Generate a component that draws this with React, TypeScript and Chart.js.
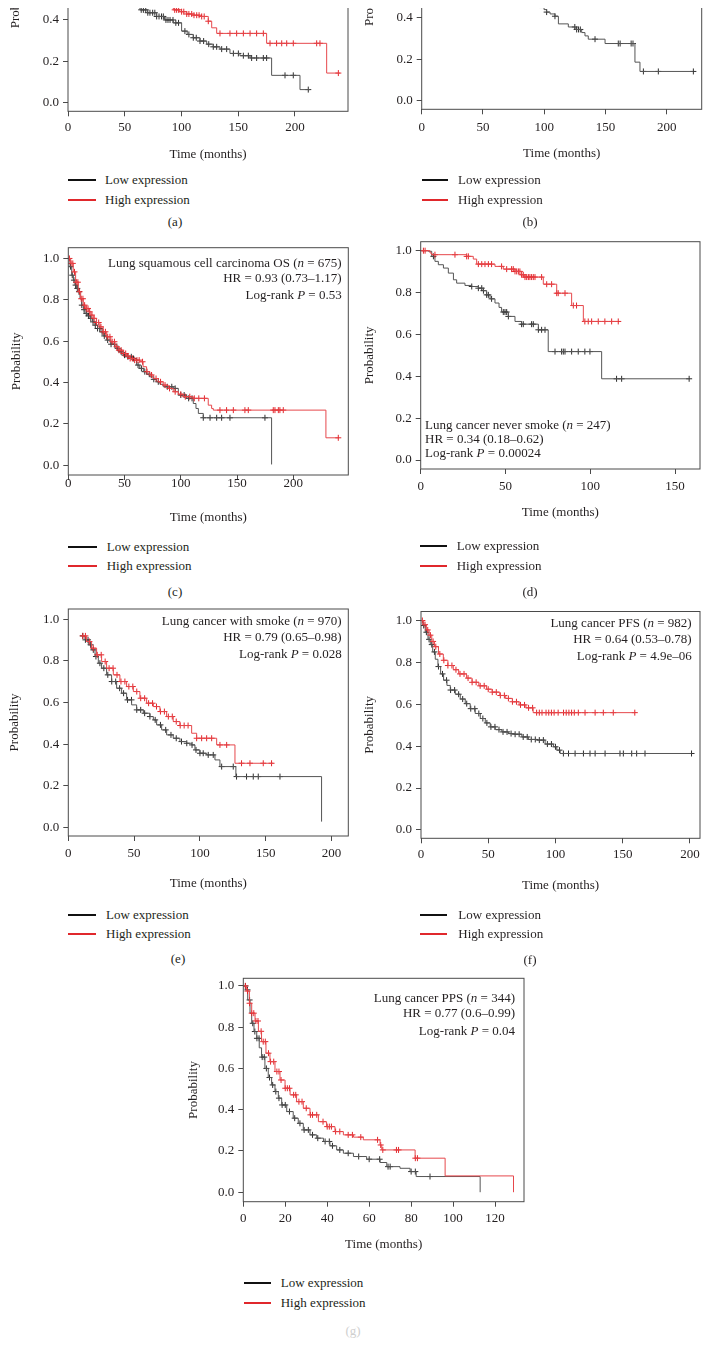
import React, { useEffect, useRef } from 'react';
import { Chart, registerables } from 'chart.js';
Chart.register(...registerables);

const FONT = "'Liberation Serif', 'Times New Roman', serif";
const TEXT = '#231f20';
const AXIS = '#4a4a4a';
const LOW_LINE = '#555555';
const LOW_MARK = '#2e2e2e';
const RED_LINE = '#e6484c';
const RED_MARK = '#e3262b';
const LEG_BLACK = '#111111';
const LEG_RED = '#e0282c';

const Y_TICKS = [0, 0.2, 0.4, 0.6, 0.8, 1.0];
const X_TICKS_200 = [0, 50, 100, 150, 200];
const X_TICKS_150 = [0, 50, 100, 150];
const X_TICKS_120 = [0, 20, 40, 60, 80, 100, 120];

const LEGEND_LABELS = ['Low expression', 'High expression'];

// ---------- (a) ----------
const aLowT = [0, 3, 6, 10, 15, 20, 25, 30, 35, 40, 45, 50, 55, 60, 63.4, 70, 78.1, 85, 92.8, 100.1, 105, 110.4, 116.3, 122.2, 128, 133.9, 142.7, 151.5, 160.4, 179.4, 204.4, 213.2];
const aLowS = [1, 0.95, 0.9, 0.84, 0.78, 0.72, 0.67, 0.62, 0.58, 0.55, 0.52, 0.5, 0.48, 0.465, 0.449, 0.435, 0.417, 0.4, 0.386, 0.346, 0.33, 0.314, 0.298, 0.283, 0.27, 0.259, 0.238, 0.227, 0.216, 0.132, 0.063, 0.063];
const aLowC = [64.5, 66.4, 68.5, 70.3, 72.2, 74.6, 76.5, 78.1, 80.2, 82.4, 84, 86.3, 88.1, 89.9, 92.5, 95, 97.4, 103, 106.5, 110.4, 113, 116.3, 119.5, 124, 128, 131, 135.4, 139.8, 145.7, 150.1, 154.5, 158.9, 161.8, 166.2, 172.1, 175, 191.2, 198.5, 211.7];
const aHighT = [0, 3, 6, 10, 15, 20, 25, 30, 40, 50, 60, 70, 80, 86, 92.8, 98, 104.6, 110, 116.3, 123.6, 126.6, 131, 175, 227.9, 239.6];
const aHighS = [1, 0.97, 0.94, 0.9, 0.86, 0.82, 0.78, 0.75, 0.69, 0.63, 0.57, 0.52, 0.49, 0.465, 0.449, 0.44, 0.429, 0.423, 0.417, 0.394, 0.362, 0.335, 0.287, 0.143, 0.143];
const aHighC = [94, 95.7, 97.5, 100.1, 102, 104.6, 106.5, 109, 111, 113.4, 115.5, 117.8, 120, 123.6, 133.9, 142.7, 148.6, 154.5, 160.4, 166.2, 172.1, 178, 183.8, 188.3, 192.7, 198.5, 219.1, 222, 238.2];

// ---------- (b) ----------
const bLowT = [0, 4, 8, 12, 18, 24, 30, 36, 42, 48, 54, 60, 66, 72, 78, 84, 90, 96, 99.9, 102, 104.8, 108.8, 111.6, 119.7, 125.2, 130.6, 133.3, 136, 149.7, 174.1, 178.2, 221.8];
const bLowS = [1, 0.95, 0.9, 0.85, 0.8, 0.75, 0.71, 0.67, 0.64, 0.6, 0.57, 0.55, 0.52, 0.5, 0.48, 0.47, 0.46, 0.45, 0.44, 0.428, 0.419, 0.408, 0.371, 0.356, 0.344, 0.329, 0.313, 0.297, 0.276, 0.186, 0.141, 0.141];
const bLowC = [102, 108.8, 125, 126.5, 128, 129.5, 141.5, 160.5, 162, 171, 172.5, 181, 193.2, 221.8];
const bHighT = [0, 5, 10, 15, 20, 30, 40, 50, 60, 70, 80, 90, 100, 110, 120, 130, 140, 150, 160];
const bHighS = [1, 0.97, 0.94, 0.91, 0.88, 0.83, 0.79, 0.75, 0.72, 0.69, 0.66, 0.63, 0.61, 0.59, 0.57, 0.55, 0.53, 0.52, 0.52];
const bHighC = [25, 48, 70, 95, 118, 142, 160];

// ---------- (c) ----------
const cLowT = [0, 1.5, 3, 4.5, 5.9, 7.4, 8.9, 10.4, 11.9, 13.4, 14.8, 17, 19.3, 21.5, 23.7, 26, 28.1, 31, 34.1, 37.8, 41.5, 45, 48.9, 52.5, 56.3, 60.7, 63.5, 66.7, 69.5, 72.6, 75.5, 78.5, 81.5, 84.4, 93.3, 97.8, 105.2, 111.1, 113.5, 115.6, 120, 180.7];
const cLowS = [1, 0.96, 0.919, 0.895, 0.871, 0.855, 0.839, 0.805, 0.774, 0.752, 0.734, 0.722, 0.71, 0.693, 0.677, 0.661, 0.645, 0.625, 0.605, 0.585, 0.565, 0.548, 0.532, 0.524, 0.516, 0.484, 0.468, 0.452, 0.44, 0.427, 0.415, 0.403, 0.391, 0.379, 0.371, 0.339, 0.323, 0.298, 0.274, 0.25, 0.229, 0.003];
const cLowC = [2, 3.5, 5, 6.5, 8, 9.5, 12, 14, 16, 18, 20, 22, 24, 26, 28, 30, 32, 35, 38, 41, 44, 47, 50, 53, 56, 58, 62, 65, 68, 72, 76, 80, 88, 92, 95, 100, 103, 107, 110, 120, 126, 131.9, 136.3, 143.7, 174.8];
const cHighT = [0, 2.1, 4.4, 6.5, 8.9, 11, 13.3, 15.5, 17.8, 20, 22.2, 25, 28.1, 31, 34.1, 37.8, 41.5, 45, 48.9, 51.5, 54.8, 59, 63.7, 66.5, 69.6, 72.5, 75.6, 80, 84.4, 88.8, 93.3, 97.8, 102.2, 111.1, 124.4, 127.4, 128.9, 229, 240];
const cHighS = [1, 0.976, 0.935, 0.885, 0.839, 0.805, 0.774, 0.758, 0.742, 0.726, 0.71, 0.69, 0.669, 0.645, 0.621, 0.597, 0.573, 0.556, 0.54, 0.528, 0.516, 0.508, 0.5, 0.476, 0.452, 0.436, 0.419, 0.403, 0.387, 0.371, 0.355, 0.343, 0.331, 0.323, 0.29, 0.274, 0.266, 0.132, 0.132];
const cHighC = [1, 2.5, 4, 5.5, 7, 8.5, 10, 11.5, 13, 14.5, 16, 17.5, 19, 21, 23, 25, 27, 29, 31, 33, 35, 37, 39, 41, 43, 45, 47, 49, 51, 53, 55, 57, 59, 61, 63, 66, 70, 74, 78, 82, 86, 90, 95, 100, 104, 108, 112, 116, 121, 134.8, 140.7, 146.7, 157, 160, 182.2, 183.7, 186.7, 188.1, 191.1, 240];

// ---------- (d) ----------
const dLowT = [0, 4.5, 6.5, 8.4, 10.4, 13.4, 16.3, 19.3, 21.2, 26.1, 30.1, 34, 36.9, 38.9, 40.9, 43.8, 46.2, 47.7, 51.7, 55.6, 59.5, 69.4, 75.2, 106.7, 158.3];
const dLowS = [1, 0.997, 0.973, 0.949, 0.933, 0.917, 0.893, 0.861, 0.845, 0.834, 0.829, 0.821, 0.809, 0.789, 0.77, 0.75, 0.729, 0.707, 0.686, 0.662, 0.649, 0.622, 0.518, 0.388, 0.388];
const dLowC = [7.5, 30.1, 34, 36, 37, 38.9, 39.9, 41.8, 48.7, 49.7, 50.7, 51.7, 59.5, 60.5, 65.4, 66.4, 69.4, 71.3, 73.3, 79.2, 83.1, 84.1, 85.1, 89, 92.9, 96.8, 99.8, 115.5, 118.5, 158.3];
const dHighT = [0, 5.5, 6.5, 27.1, 31, 33, 43.8, 48.7, 55.6, 59.5, 61.5, 72.3, 80.2, 89, 95.9, 116.5];
const dHighS = [1, 0.989, 0.981, 0.973, 0.96, 0.936, 0.925, 0.912, 0.901, 0.885, 0.874, 0.84, 0.797, 0.738, 0.662, 0.662];
const dHighC = [1.6, 2.6, 8.4, 20.2, 27.1, 28.1, 34, 36, 37.9, 39.9, 41.8, 47.7, 50.7, 53.6, 54.6, 55.6, 56.6, 57.6, 58.5, 59.5, 60.5, 61.5, 62.5, 63.5, 64.4, 65.4, 66.4, 67.4, 71.3, 74.3, 77.2, 80.2, 81.1, 85.1, 90, 91.9, 96.8, 98.8, 100.8, 104.7, 108.6, 112.6, 116.5];

// ---------- (e) ----------
const eLowT = [10.1, 12.7, 15.2, 17.7, 20.3, 22.8, 25.3, 29.1, 32.9, 36.7, 40.5, 44.3, 48.1, 51.9, 57, 62, 64.6, 67.1, 70.9, 74.7, 79.7, 84.8, 89.9, 93.7, 96.2, 100, 105.1, 111.4, 115.2, 127.3, 192.4];
const eLowS = [0.92, 0.901, 0.877, 0.853, 0.821, 0.789, 0.765, 0.733, 0.701, 0.669, 0.645, 0.613, 0.589, 0.565, 0.549, 0.533, 0.517, 0.493, 0.469, 0.445, 0.429, 0.413, 0.405, 0.397, 0.373, 0.357, 0.349, 0.325, 0.293, 0.245, 0.029];
const eLowC = [11, 13, 15, 17, 19, 21, 24, 27, 30, 33, 36, 39, 42, 45, 48, 52, 55, 58, 62, 66, 70, 74, 78, 82, 86, 90, 94, 97, 100, 102.5, 106.3, 110.1, 116.5, 125.3, 127.8, 135.4, 140.5, 144.3, 160.8];
const eHighT = [10.1, 13.9, 17.7, 21.5, 25.3, 29.1, 34.2, 39.2, 44.3, 49.4, 54.4, 59.5, 64.6, 69.6, 74.7, 79.7, 84.8, 93.7, 97.5, 112.7, 126.6, 155.7];
const eHighS = [0.92, 0.893, 0.861, 0.829, 0.797, 0.765, 0.733, 0.701, 0.677, 0.653, 0.621, 0.597, 0.581, 0.557, 0.533, 0.509, 0.49, 0.453, 0.429, 0.397, 0.309, 0.309];
const eHighC = [11, 13, 16, 19, 22, 25, 28, 31, 34, 37, 40, 43, 46, 49, 52, 55, 58, 61, 64, 67, 70, 73, 76, 79, 82, 85, 88, 91, 97.5, 101.3, 105.1, 108.9, 115.2, 120.3, 131.6, 138, 148.1, 154.4];

// ---------- (f) ----------
const fLowT = [0, 1.5, 3.2, 5.2, 6.9, 8.7, 10.6, 12.6, 14.6, 16.8, 19.3, 21.8, 25.5, 29.2, 32.9, 36.6, 40.3, 44.1, 47.8, 51.5, 55.2, 60.1, 65.1, 70, 75, 79.9, 86.1, 92.3, 98.5, 101, 103.5, 201.2];
const fLowS = [1, 0.976, 0.944, 0.91, 0.885, 0.85, 0.815, 0.78, 0.745, 0.715, 0.69, 0.668, 0.648, 0.625, 0.603, 0.579, 0.556, 0.532, 0.511, 0.492, 0.479, 0.468, 0.46, 0.457, 0.444, 0.432, 0.429, 0.41, 0.397, 0.381, 0.365, 0.365];
const fLowC = [2, 4, 6, 8, 10, 13, 16, 19, 22, 25, 28, 31, 34, 37, 40, 43, 46, 49, 52, 55, 58, 61, 64, 67, 70, 73, 76, 79, 82, 85, 88, 91, 94, 97, 100, 103, 105.9, 109.7, 114.6, 120.8, 125.7, 129.5, 136.9, 148, 150.5, 156.7, 160.4, 166.6, 201.2];
const fHighT = [0, 2, 4, 6, 8, 10, 13, 16.6, 20, 24, 28, 33.9, 38, 43, 48.8, 53, 58.6, 63, 68, 73, 78, 83.4, 159];
const fHighS = [1, 0.98, 0.955, 0.93, 0.9, 0.875, 0.84, 0.81, 0.785, 0.765, 0.745, 0.725, 0.705, 0.688, 0.672, 0.658, 0.642, 0.628, 0.612, 0.597, 0.583, 0.56, 0.56];
const fHighC = [1, 3, 5, 7, 9, 11, 14, 17, 20, 23, 26, 29, 32, 35, 38, 41, 44, 47, 50, 53, 56, 59, 62, 65, 68, 71, 74, 77, 80, 83, 86, 88, 90, 93, 95, 97, 99, 102, 106, 108, 110, 112, 114, 117, 122, 129.5, 135.6, 143, 159];

// ---------- (g) ----------
const gLowT = [0, 1.1, 2.1, 3.2, 4, 5.1, 6.4, 7.6, 8.7, 10.3, 11.9, 13.5, 15.1, 16.7, 18.3, 20.7, 23.8, 26.2, 28.6, 31.8, 35, 38.2, 41.3, 44.5, 47.7, 52.5, 58.8, 65.2, 68.4, 74.7, 79.5, 82.4, 112.9];
const gLowS = [1, 0.981, 0.932, 0.868, 0.819, 0.779, 0.746, 0.7, 0.655, 0.6, 0.556, 0.52, 0.488, 0.456, 0.423, 0.391, 0.359, 0.334, 0.302, 0.278, 0.262, 0.246, 0.225, 0.205, 0.189, 0.173, 0.16, 0.144, 0.124, 0.116, 0.1, 0.076, 0];
const gLowC = [1, 2, 3, 4.5, 5.5, 6.5, 7.5, 9, 10, 11, 12.5, 14, 15.5, 17, 18.5, 20, 22, 24.5, 27, 29, 31, 33, 35.5, 39, 41, 42.5, 46, 50, 55, 60, 65, 69, 70, 80, 82, 89];
const gHighT = [0, 1.6, 2.9, 4, 5.6, 7.2, 8.7, 10.8, 12.7, 15.1, 17.5, 19.9, 22.3, 25.4, 28.6, 31.8, 35.8, 39.7, 43.7, 47.7, 52.5, 57.2, 65.2, 66, 81.9, 96.2, 128.8];
const gHighS = [1, 0.975, 0.916, 0.868, 0.83, 0.78, 0.73, 0.674, 0.633, 0.585, 0.544, 0.504, 0.472, 0.439, 0.407, 0.375, 0.342, 0.318, 0.294, 0.278, 0.267, 0.254, 0.229, 0.205, 0.165, 0.079, 0];
const gHighC = [1, 2, 3, 4, 5, 6, 7, 8.5, 9.5, 10.5, 12, 13, 14.5, 16, 17, 18, 20, 21, 22, 24, 25, 26.5, 28, 30, 32, 33, 35, 38, 40, 41, 42, 44, 46, 50, 52, 56, 64, 65.5, 66.5, 73, 74, 82, 83];

// ---------- annotation texts (*...* = italic) ----------
const cNote = ['Lung squamous cell carcinoma OS (*n* = 675)', 'HR = 0.93 (0.73–1.17)', 'Log-rank *P* = 0.53'];
const dNote = ['Lung cancer never smoke (*n* = 247)', 'HR = 0.34 (0.18–0.62)', 'Log-rank *P* = 0.00024'];
const eNote = ['Lung cancer with smoke (*n* = 970)', 'HR = 0.79 (0.65–0.98)', 'Log-rank *P* = 0.028'];
const fNote = ['Lung cancer PFS (*n* = 982)', 'HR = 0.64 (0.53–0.78)', 'Log-rank *P* = 4.9e–06'];
const gNote = ['Lung cancer PPS (*n* = 344)', 'HR = 0.77 (0.6–0.99)', 'Log-rank *P* = 0.04'];

type Note = { align: 'left' | 'right'; x: number; ys: number[]; lines: string[] };
type Panel = {
  id: string;
  l: number; r: number; t: number; b: number;
  yMin: number; yMax: number; xMax: number; xTicks: number[];
  titleY: number; probX: number; tickPad: number;
  lowT: number[]; lowS: number[]; lowC: number[];
  hiT: number[]; hiS: number[]; hiC: number[];
  note?: Note;
  legend: { x1: number; x2: number; tx: number; y1: number; y2: number };
  label: { text: string; x: number; y: number; color?: string };
};

const PANELS: Panel[] = [
  {
    id: 'a', l: 68, r: 348, t: -112.7, b: 111.3, yMin: -0.042, yMax: 1.042, xMax: 246.7, xTicks: X_TICKS_200,
    titleY: 154, probX: 16, tickPad: 3.9,
    lowT: aLowT, lowS: aLowS, lowC: aLowC, hiT: aHighT, hiS: aHighS, hiC: aHighC,
    legend: { x1: 68, x2: 96, tx: 105, y1: 180, y2: 200 },
    label: { text: '(a)', x: 175, y: 222 },
  },
  {
    id: 'b', l: 421.7, r: 701.7, t: -114.9, b: 109.3, yMin: -0.042, yMax: 1.042, xMax: 228.6, xTicks: X_TICKS_200,
    titleY: 152.7, probX: 370, tickPad: 5.9,
    lowT: bLowT, lowS: bLowS, lowC: bLowC, hiT: bHighT, hiS: bHighS, hiC: bHighC,
    legend: { x1: 421.7, x2: 447.7, tx: 458, y1: 180, y2: 200 },
    label: { text: '(b)', x: 530, y: 222 },
  },
  {
    id: 'c', l: 68.3, r: 348.3, t: 247.7, b: 475, yMin: -0.048, yMax: 1.052, xMax: 248.9, xTicks: X_TICKS_200,
    titleY: 516.7, probX: 16.7, tickPad: -4,
    lowT: cLowT, lowS: cLowS, lowC: cLowC, hiT: cHighT, hiS: cHighS, hiC: cHighC,
    note: { align: 'right', x: 341.7, ys: [263.3, 279, 295.7], lines: cNote },
    legend: { x1: 68.3, x2: 96.7, tx: 106.7, y1: 546.7, y2: 566 },
    label: { text: '(c)', x: 175, y: 591.7 },
  },
  {
    id: 'd', l: 420.7, r: 700, t: 241.7, b: 469, yMin: -0.043, yMax: 1.043, xMax: 164.7, xTicks: X_TICKS_150,
    titleY: 512.3, probX: 370, tickPad: 4.9,
    lowT: dLowT, lowS: dLowS, lowC: dLowC, hiT: dHighT, hiS: dHighS, hiC: dHighC,
    note: { align: 'left', x: 425, ys: [425.5, 439.5, 453.5], lines: dNote },
    legend: { x1: 420, x2: 446.7, tx: 456.7, y1: 545.7, y2: 566 },
    label: { text: '(d)', x: 530, y: 591.7 },
  },
  {
    id: 'e', l: 68.3, r: 348.3, t: 609, b: 836, yMin: -0.04, yMax: 1.049, xMax: 212.7, xTicks: X_TICKS_200,
    titleY: 883.3, probX: 15, tickPad: 4.5,
    lowT: eLowT, lowS: eLowS, lowC: eLowC, hiT: eHighT, hiS: eHighS, hiC: eHighC,
    note: { align: 'right', x: 341.7, ys: [621.7, 637.3, 654.3], lines: eNote },
    legend: { x1: 68, x2: 96, tx: 106, y1: 915, y2: 934.3 },
    label: { text: '(e)', x: 178, y: 959 },
  },
  {
    id: 'f', l: 421, r: 700, t: 611.5, b: 838.3, yMin: -0.04, yMax: 1.043, xMax: 207.5, xTicks: X_TICKS_200,
    titleY: 885, probX: 370, tickPad: 3.9,
    lowT: fLowT, lowS: fLowS, lowC: fLowC, hiT: fHighT, hiS: fHighS, hiC: fHighC,
    note: { align: 'right', x: 691.7, ys: [623.3, 639.3, 656.7], lines: fNote },
    legend: { x1: 420, x2: 446.7, tx: 458.3, y1: 915, y2: 934.3 },
    label: { text: '(f)', x: 530, y: 960 },
  },
  {
    id: 'g', l: 243.3, r: 524, t: 978.3, b: 1201.7, yMin: -0.046, yMax: 1.037, xMax: 133.8, xTicks: X_TICKS_120,
    titleY: 1244, probX: 193.3, tickPad: 3.8,
    lowT: gLowT, lowS: gLowS, lowC: gLowC, hiT: gHighT, hiS: gHighS, hiC: gHighC,
    note: { align: 'right', x: 515, ys: [998.3, 1014, 1031.7], lines: gNote },
    legend: { x1: 244, x2: 270.7, tx: 280.7, y1: 1283.3, y2: 1303.3 },
    label: { text: '(g)', x: 353, y: 1331, color: '#cfcfcf' },
  },
];

function stepAt(T: number[], S: number[], t: number): number {
  let v = S[0];
  for (let i = 0; i < T.length; i++) {
    if (T[i] <= t) v = S[i];
    else break;
  }
  return v;
}

const curve = (T: number[], S: number[]) => T.map((t, i) => ({ x: t, y: S[i] }));
const censors = (T: number[], S: number[], C: number[]) => C.map((t) => ({ x: t, y: stepAt(T, S, t) }));

function KMPanel({ p }: { p: Panel }) {
  const ref = useRef<HTMLCanvasElement>(null);
  const cl = Math.round(p.probX - 7.8);
  const ct = Math.floor(p.t - 12);
  const cr = Math.ceil(p.r + 22);
  const cb = Math.round(p.titleY + 7.8);
  const W = cr - cl;
  const H = cb - ct;

  useEffect(() => {
    const canvas = ref.current;
    if (!canvas) return;
    const font13 = { family: FONT, size: 13 };
    const decor = {
      id: 'decor' + p.id,
      afterDraw(chart: any) {
        const ctx = chart.ctx as CanvasRenderingContext2D;
        const a = chart.chartArea;
        ctx.save();
        ctx.strokeStyle = AXIS;
        ctx.lineWidth = 1;
        ctx.strokeRect(a.left, a.top, a.right - a.left, a.bottom - a.top);
        if (p.note) {
          const note = p.note;
          ctx.fillStyle = TEXT;
          ctx.textBaseline = 'middle';
          ctx.textAlign = 'left';
          const fontOf = (it: boolean) => `${it ? 'italic ' : ''}13px ${FONT}`;
          note.lines.forEach((line, i) => {
            const segs = line.split('*').map((s, j) => ({ s, it: j % 2 === 1 }));
            let w = 0;
            segs.forEach((g) => { ctx.font = fontOf(g.it); w += ctx.measureText(g.s).width; });
            let x = (note.align === 'right' ? note.x - w : note.x) - cl;
            const y = note.ys[i] - ct;
            segs.forEach((g) => {
              ctx.font = fontOf(g.it);
              ctx.fillText(g.s, x, y);
              x += ctx.measureText(g.s).width;
            });
          });
        }
        ctx.restore();
      },
    };

    const chart = new Chart(canvas, {
      type: 'line',
      data: {
        datasets: [
          { label: 'High', data: curve(p.hiT, p.hiS), borderColor: RED_LINE, borderWidth: 1, pointRadius: 0, stepped: 'before', fill: false },
          { label: 'High censored', data: censors(p.hiT, p.hiS, p.hiC), showLine: false, pointStyle: 'cross', pointRadius: 3, borderColor: RED_MARK, pointBorderColor: RED_MARK, pointBorderWidth: 1 },
          { label: 'Low', data: curve(p.lowT, p.lowS), borderColor: LOW_LINE, borderWidth: 1, pointRadius: 0, stepped: 'before', fill: false },
          { label: 'Low censored', data: censors(p.lowT, p.lowS, p.lowC), showLine: false, pointStyle: 'cross', pointRadius: 3, borderColor: LOW_MARK, pointBorderColor: LOW_MARK, pointBorderWidth: 1 },
        ],
      } as any,
      options: {
        responsive: false,
        animation: false,
        events: [],
        layout: { autoPadding: false, padding: { left: 0, top: p.t - ct, right: cr - p.r, bottom: 0 } },
        plugins: { legend: { display: false }, tooltip: { enabled: false } },
        scales: {
          x: {
            type: 'linear', min: 0, max: p.xMax,
            afterBuildTicks: (s: any) => { s.ticks = p.xTicks.map((v) => ({ value: v })); },
            afterFit: (s: any) => { s.height = cb - p.b; },
            grid: { drawOnChartArea: false, drawTicks: true, tickLength: 5, color: AXIS, lineWidth: 1 },
            border: { display: false },
            ticks: { font: font13, color: TEXT, padding: p.tickPad, maxRotation: 0, autoSkip: false, callback: (v: any) => String(v) },
            title: { display: true, text: 'Time (months)', font: font13, color: TEXT, padding: 0 },
          },
          y: {
            type: 'linear', min: p.yMin, max: p.yMax,
            afterBuildTicks: (s: any) => { s.ticks = Y_TICKS.map((v) => ({ value: v })); },
            afterFit: (s: any) => { s.width = p.l - cl; },
            grid: { drawOnChartArea: false, drawTicks: true, tickLength: 5, color: AXIS, lineWidth: 1 },
            border: { display: false },
            ticks: { font: font13, color: TEXT, padding: 4, autoSkip: false, callback: (v: any) => Number(v).toFixed(1) },
            title: { display: true, text: 'Probability', font: font13, color: TEXT, padding: 0 },
          },
        },
      } as any,
      plugins: [decor],
    });
    return () => chart.destroy();
  }, []);

  const textStyle: React.CSSProperties = {
    position: 'absolute', fontFamily: FONT, fontSize: 13, color: TEXT, lineHeight: '16px', whiteSpace: 'nowrap',
  };
  const lg = p.legend;
  return (
    <>
      <canvas ref={ref} width={W} height={H} style={{ position: 'absolute', left: cl, top: ct, width: W, height: H }} />
      <div style={{ position: 'absolute', left: lg.x1, top: lg.y1 - 1, width: lg.x2 - lg.x1, height: 2, background: LEG_BLACK }} />
      <div style={{ ...textStyle, left: lg.tx, top: lg.y1 - 8 }}>{LEGEND_LABELS[0]}</div>
      <div style={{ position: 'absolute', left: lg.x1, top: lg.y2 - 1, width: lg.x2 - lg.x1, height: 2, background: LEG_RED }} />
      <div style={{ ...textStyle, left: lg.tx, top: lg.y2 - 8 }}>{LEGEND_LABELS[1]}</div>
      <div style={{ ...textStyle, left: p.label.x - 20, width: 40, textAlign: 'center', top: p.label.y - 8, color: p.label.color || TEXT }}>{p.label.text}</div>
    </>
  );
}

export default function App() {
  return (
    <div style={{ position: 'absolute', left: 0, top: 0, width: 710, height: 1346, overflow: 'hidden', background: '#ffffff' }}>
      {PANELS.map((p) => <KMPanel key={p.id} p={p} />)}
      <div style={{ position: 'absolute', left: 0, top: 0, width: 710, height: 8, background: '#ffffff' }} />
    </div>
  );
}
